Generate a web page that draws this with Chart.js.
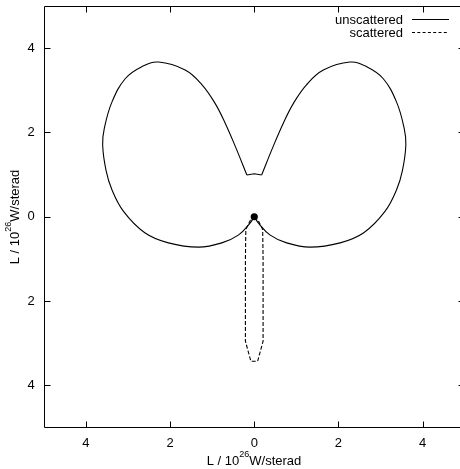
<!DOCTYPE html>
<html>
<head>
<meta charset="utf-8">
<script src="https://cdn.jsdelivr.net/npm/chart.js@4/dist/chart.umd.min.js"></script>
<style>
  html, body { margin: 0; padding: 0; background: #fff; overflow: hidden; }
  #wrap { width: 470px; height: 469px; position: relative; }
</style>
</head>
<body>
<div id="wrap"><canvas id="chart"></canvas></div>
<script>
// unscattered: left lobe (origin -> notch), notch, right lobe (notch -> origin)
const leftLobeX = [0, -0.1, -0.37, -0.77, -1.32, -2.04, -2.6, -3.1, -3.38, -3.52, -3.6, -3.56, -3.38, -3.06, -2.67, -2.27, -1.64, -1.24, -0.93, -0.69, -0.45, -0.175];
const leftLobeY = [0, -0.15, -0.43, -0.62, -0.72, -0.62, -0.38, 0.12, 0.64, 1.1, 1.7, 2.1, 2.72, 3.28, 3.56, 3.67, 3.48, 3.13, 2.69, 2.22, 1.67, 0.99];
const notchX = [-0.175, 0, 0.175];
const notchY = [0.99, 1.02, 0.99];
const rightLobeX = [0.175, 0.45, 0.69, 0.93, 1.24, 1.64, 2.27, 2.67, 3.06, 3.38, 3.56, 3.6, 3.52, 3.38, 3.1, 2.6, 2.04, 1.32, 0.77, 0.37, 0.1, 0];
const rightLobeY = [0.99, 1.67, 2.22, 2.69, 3.13, 3.48, 3.67, 3.56, 3.28, 2.72, 2.1, 1.7, 1.1, 0.64, 0.12, -0.38, -0.62, -0.72, -0.62, -0.43, -0.15, 0];
// scattered lobe
const scatteredX = [0, 0.09, 0.2, 0.21, 0.21, 0.21, 0.08, -0.08, -0.21, -0.21, -0.21, -0.2, -0.09, 0];
const scatteredY = [0, -0.08, -0.3, -1.0, -2.0, -2.95, -3.43, -3.43, -2.95, -2.0, -1.0, -0.3, -0.08, 0];
const originPoint = [0, 0];

const tickValues = [-4, -2, 0, 2, 4];
const axisMin = -5;
const axisMax = 5;
const seriesNames = ["unscattered", "scattered"];
const axisTitleMain = "L / 10";
const axisTitleSup = "26";
const axisTitleEnd = "W/sterad";

const FONT = "13px 'Liberation Sans', Arial, sans-serif";
const SUP_FONT = "9px 'Liberation Sans', Arial, sans-serif";

function toPoints(xs, ys) {
  return xs.map((x, i) => ({ x: x, y: ys[i] }));
}

function lineSet(label, xs, ys, tension, dash) {
  return {
    label: label,
    data: toPoints(xs, ys),
    showLine: true,
    borderColor: "#000",
    borderWidth: 1.1,
    borderDash: dash || [],
    pointRadius: 0,
    tension: tension,
    fill: false
  };
}

function drawTitle(ctx, cx, cy) {
  // draws "L / 10^26W/sterad" centred on (cx, cy)
  ctx.font = FONT;
  const w1 = ctx.measureText(axisTitleMain).width;
  const w3 = ctx.measureText(axisTitleEnd).width;
  ctx.font = SUP_FONT;
  const w2 = ctx.measureText(axisTitleSup).width;
  let x = cx - (w1 + w2 + w3) / 2;
  ctx.textBaseline = "middle";
  ctx.textAlign = "left";
  ctx.font = FONT;
  ctx.fillText(axisTitleMain, x, cy);
  x += w1;
  ctx.font = SUP_FONT;
  ctx.fillText(axisTitleSup, x, cy - 6);
  x += w2;
  ctx.font = FONT;
  ctx.fillText(axisTitleEnd, x, cy);
}

const framePlugin = {
  id: "frame",
  afterDraw(chart) {
    const ctx = chart.ctx;
    const a = chart.chartArea;
    const xs = chart.scales.x;
    const ys = chart.scales.y;
    const L = Math.round(a.left) + 0.5, R = Math.round(a.right) - 0.5;
    const T = Math.round(a.top) + 0.5, B = Math.round(a.bottom) - 0.5;
    ctx.save();
    ctx.strokeStyle = "#000";
    ctx.lineWidth = 1;
    ctx.setLineDash([]);
    // frame: the right side lies past the window edge
    ctx.beginPath();
    ctx.moveTo(R + 2, T); ctx.lineTo(L, T); ctx.lineTo(L, B); ctx.lineTo(R + 2, B);
    ctx.stroke();
    // inward ticks
    ctx.beginPath();
    tickValues.forEach(v => {
      const px = Math.round(xs.getPixelForValue(v)) + 0.5;
      ctx.moveTo(px, B); ctx.lineTo(px, B - 6);
      ctx.moveTo(px, T); ctx.lineTo(px, T + 6);
      const py = Math.round(ys.getPixelForValue(v)) + 0.5;
      ctx.moveTo(L, py); ctx.lineTo(L + 6, py);
      ctx.moveTo(R, py); ctx.lineTo(R - 6, py);
    });
    ctx.stroke();

    // legend (gnuplot style: text then sample)
    ctx.fillStyle = "#000";
    ctx.font = FONT;
    ctx.textAlign = "right";
    ctx.textBaseline = "middle";
    ctx.fillText(seriesNames[0], 403, 20);
    ctx.fillText(seriesNames[1], 403, 33);
    ctx.beginPath();
    ctx.moveTo(412, 19.5); ctx.lineTo(449, 19.5);
    ctx.stroke();
    ctx.setLineDash([3, 2.3]);
    ctx.beginPath();
    ctx.moveTo(412, 32.5); ctx.lineTo(449, 32.5);
    ctx.stroke();
    ctx.setLineDash([]);

    // axis titles
    drawTitle(ctx, 254, 461);
    ctx.translate(15, 217);
    ctx.rotate(-Math.PI / 2);
    drawTitle(ctx, 0, 0);
    ctx.restore();
  }
};

new Chart(document.getElementById("chart"), {
  type: "scatter",
  data: {
    datasets: [
      lineSet(seriesNames[0], leftLobeX, leftLobeY, 0.4),
      lineSet(seriesNames[0], notchX, notchY, 0),
      lineSet(seriesNames[0], rightLobeX, rightLobeY, 0.4),
      lineSet(seriesNames[1], scatteredX, scatteredY, 0, [4, 2]),
      {
        label: "origin",
        data: [{ x: originPoint[0], y: originPoint[1] }],
        showLine: false,
        pointRadius: 3.6,
        pointBackgroundColor: "#000",
        pointBorderColor: "#000",
        borderWidth: 0
      }
    ]
  },
  options: {
    responsive: true,
    maintainAspectRatio: false,
    animation: false,
    layout: { padding: { top: 6, right: 5.2, left: 0, bottom: 0 } },
    plugins: {
      legend: { display: false },
      tooltip: { enabled: false }
    },
    scales: {
      x: {
        type: "linear",
        min: axisMin,
        max: axisMax,
        afterBuildTicks: s => { s.ticks = tickValues.map(v => ({ value: v })); },
        afterFit: s => { s.height = 41.5; s.paddingLeft = 0; s.paddingRight = 0; },
        grid: { display: false, drawTicks: false },
        border: { display: false },
        ticks: {
          padding: 8,
          color: "#000",
          font: { family: "'Liberation Sans', Arial, sans-serif", size: 13 },
          callback: v => String(Math.abs(v))
        }
      },
      y: {
        type: "linear",
        min: axisMin,
        max: axisMax,
        afterBuildTicks: s => { s.ticks = tickValues.map(v => ({ value: v })); },
        afterFit: s => { s.width = 43.7; s.paddingTop = 0; s.paddingBottom = 0; },
        grid: { display: false, drawTicks: false },
        border: { display: false },
        ticks: {
          padding: 9,
          color: "#000",
          font: { family: "'Liberation Sans', Arial, sans-serif", size: 13 },
          callback: v => String(Math.abs(v))
        }
      }
    }
  },
  plugins: [framePlugin]
});
</script>
</body>
</html>
